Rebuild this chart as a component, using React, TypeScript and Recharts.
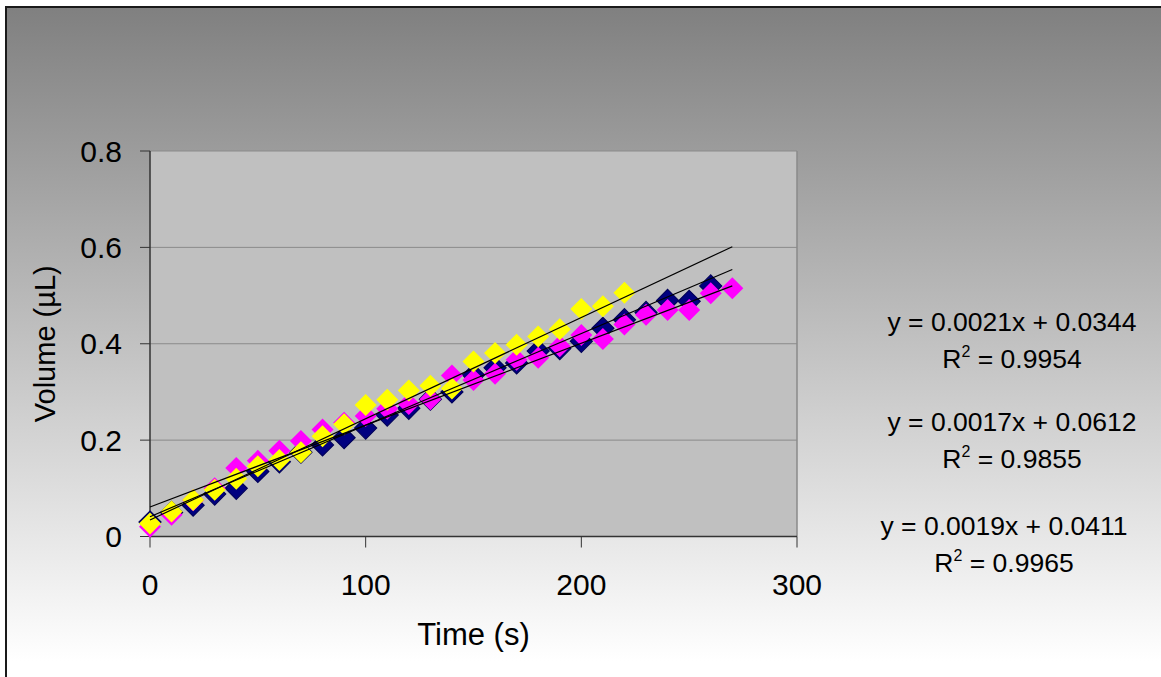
import React from 'react';
import { ScatterChart, Scatter, XAxis, YAxis, CartesianGrid, ReferenceLine } from 'recharts';

const time = [0, 10, 20, 30, 40, 50, 60, 70, 80, 90, 100, 110, 120, 130, 140, 150, 160, 170, 180, 190, 200, 210, 220, 230, 240, 250, 260, 270];

const navyVolume = [0.03, 0.05, 0.065, 0.088, 0.1, 0.135, 0.155, 0.175, 0.19, 0.205, 0.225, 0.252, 0.266, 0.285, 0.3, 0.335, 0.35, 0.36, 0.385, 0.39, 0.405, 0.432, 0.45, 0.465, 0.49, 0.488, 0.52];
const magentaVolume = [0.02, 0.045, 0.075, 0.1, 0.142, 0.157, 0.178, 0.198, 0.222, 0.236, 0.25, 0.265, 0.275, 0.285, 0.334, 0.325, 0.338, 0.367, 0.371, 0.395, 0.418, 0.41, 0.44, 0.46, 0.47, 0.47, 0.505, 0.515];
const yellowVolume = [0.027, 0.052, 0.076, 0.097, 0.12, 0.146, 0.159, 0.175, 0.208, 0.233, 0.273, 0.284, 0.303, 0.313, 0.307, 0.363, 0.381, 0.398, 0.415, 0.43, 0.472, 0.478, 0.506];

// trendline end points (x = 0 and x = 270)
const trendX = [0, 270];
const trendYellow = [0.0344, 0.6014];
const trendMagenta = [0.0612, 0.5202];
const trendNavy = [0.0411, 0.5541];

const xTicks = [0, 100, 200, 300];
const yTicks = [0, 0.2, 0.4, 0.6, 0.8];

const equations = [
  { eq: 'y = 0.0021x + 0.0344', r2: '0.9954', cx: 1012, cy: 322 },
  { eq: 'y = 0.0017x + 0.0612', r2: '0.9855', cx: 1012, cy: 422 },
  { eq: 'y = 0.0019x + 0.0411', r2: '0.9965', cx: 1004, cy: 526 },
];

const toPoints = (xs: number[], ys: number[]) => ys.map((y, i) => ({ x: xs[i], y }));

const FONT = '"Liberation Sans", Arial, sans-serif';

const diamond = (fill: string, stroke?: string) => (props: any) => {
  const { cx, cy } = props;
  if (cx == null || cy == null) return <g />;
  const r = 11;
  return (
    <polygon
      points={`${cx},${cy - r} ${cx + r},${cy} ${cx},${cy + r} ${cx - r},${cy}`}
      fill={fill}
      stroke={stroke || 'none'}
      strokeWidth={stroke ? 1.2 : 0}
    />
  );
};

const noShape = () => <g />;

export default function App() {
  return (
    <div style={{ position: 'relative', width: 1161, height: 677, overflow: 'hidden', background: '#fff', fontFamily: FONT }}>
      <style>{'body{margin:0}'}</style>
      <div
        style={{
          position: 'absolute', left: 5, top: 6, width: 1170, height: 680,
          borderLeft: '2px solid #1a1a1a', borderTop: '2px solid #1a1a1a',
          background: 'linear-gradient(to bottom, #808080 0%, #ffffff 96%)',
        }}
      />
      <div style={{ position: 'absolute', left: 0, top: 0 }}>
        <ScatterChart width={1161} height={677} margin={{ top: 151, right: 364, bottom: 0, left: 20 }}>
          <CartesianGrid horizontal vertical={false} fill="#c0c0c0" stroke="#8a8a8a" strokeWidth={1} fillOpacity={1} />
          <XAxis
            type="number" dataKey="x" domain={[0, 300]} ticks={xTicks} height={140.5}
            axisLine={{ stroke: '#333', strokeWidth: 1.5 }} tickLine={{ stroke: '#333' }} tickSize={11} tickMargin={26}
            tick={{ fill: '#000', fontSize: 30, fontFamily: FONT }}
            label={{
              content: (p: any) => {
                const vb = p.viewBox;
                return (
                  <text x={vb.x + vb.width / 2} y={645} textAnchor="middle" fontSize={31} fontFamily={FONT} fill="#000">Time (s)</text>
                );
              },
            }}
          />
          <YAxis
            type="number" dataKey="y" domain={[0, 0.8]} ticks={yTicks} width={130}
            axisLine={{ stroke: '#333', strokeWidth: 1.5 }} tickLine={{ stroke: '#333' }} tickSize={10} tickMargin={18}
            tick={{ fill: '#000', fontSize: 30, fontFamily: FONT }}
            label={{
              content: (p: any) => {
                const vb = p.viewBox;
                const cy = vb.y + vb.height / 2;
                return (
                  <text x={45} y={cy} transform={`rotate(-90 45 ${cy})`} textAnchor="middle" dominantBaseline="central" fontSize={29} fontFamily={FONT} fill="#000">Volume (µL)</text>
                );
              },
            }}
          />
          <ReferenceLine x={300} stroke="#8a8a8a" strokeWidth={1.5} />
          <Scatter data={toPoints(time, navyVolume)} shape={diamond('#000080', '#00005a')} isAnimationActive={false} />
          <Scatter data={toPoints(time, magentaVolume)} shape={diamond('#ff00ff')} isAnimationActive={false} />
          <Scatter data={toPoints(time, yellowVolume)} shape={diamond('#ffff00')} isAnimationActive={false} />
          <Scatter data={toPoints(trendX, trendYellow)} shape={noShape} line={{ stroke: '#000', strokeWidth: 1.2 }} isAnimationActive={false} />
          <Scatter data={toPoints(trendX, trendMagenta)} shape={noShape} line={{ stroke: '#000', strokeWidth: 1.2 }} isAnimationActive={false} />
          <Scatter data={toPoints(trendX, trendNavy)} shape={noShape} line={{ stroke: '#000', strokeWidth: 1.2 }} isAnimationActive={false} />
        </ScatterChart>
      </div>
      {equations.map((e) => (
        <div
          key={e.eq}
          style={{
            position: 'absolute', left: e.cx - 160, top: e.cy - 18.5, width: 320,
            textAlign: 'center', fontSize: 26.5, lineHeight: '37px', color: '#000', whiteSpace: 'nowrap',
          }}
        >
          <div>{e.eq}</div>
          <div>
            R<sup style={{ fontSize: 16, verticalAlign: 'top', lineHeight: '22px' }}>2</sup> = {e.r2}
          </div>
        </div>
      ))}
    </div>
  );
}
